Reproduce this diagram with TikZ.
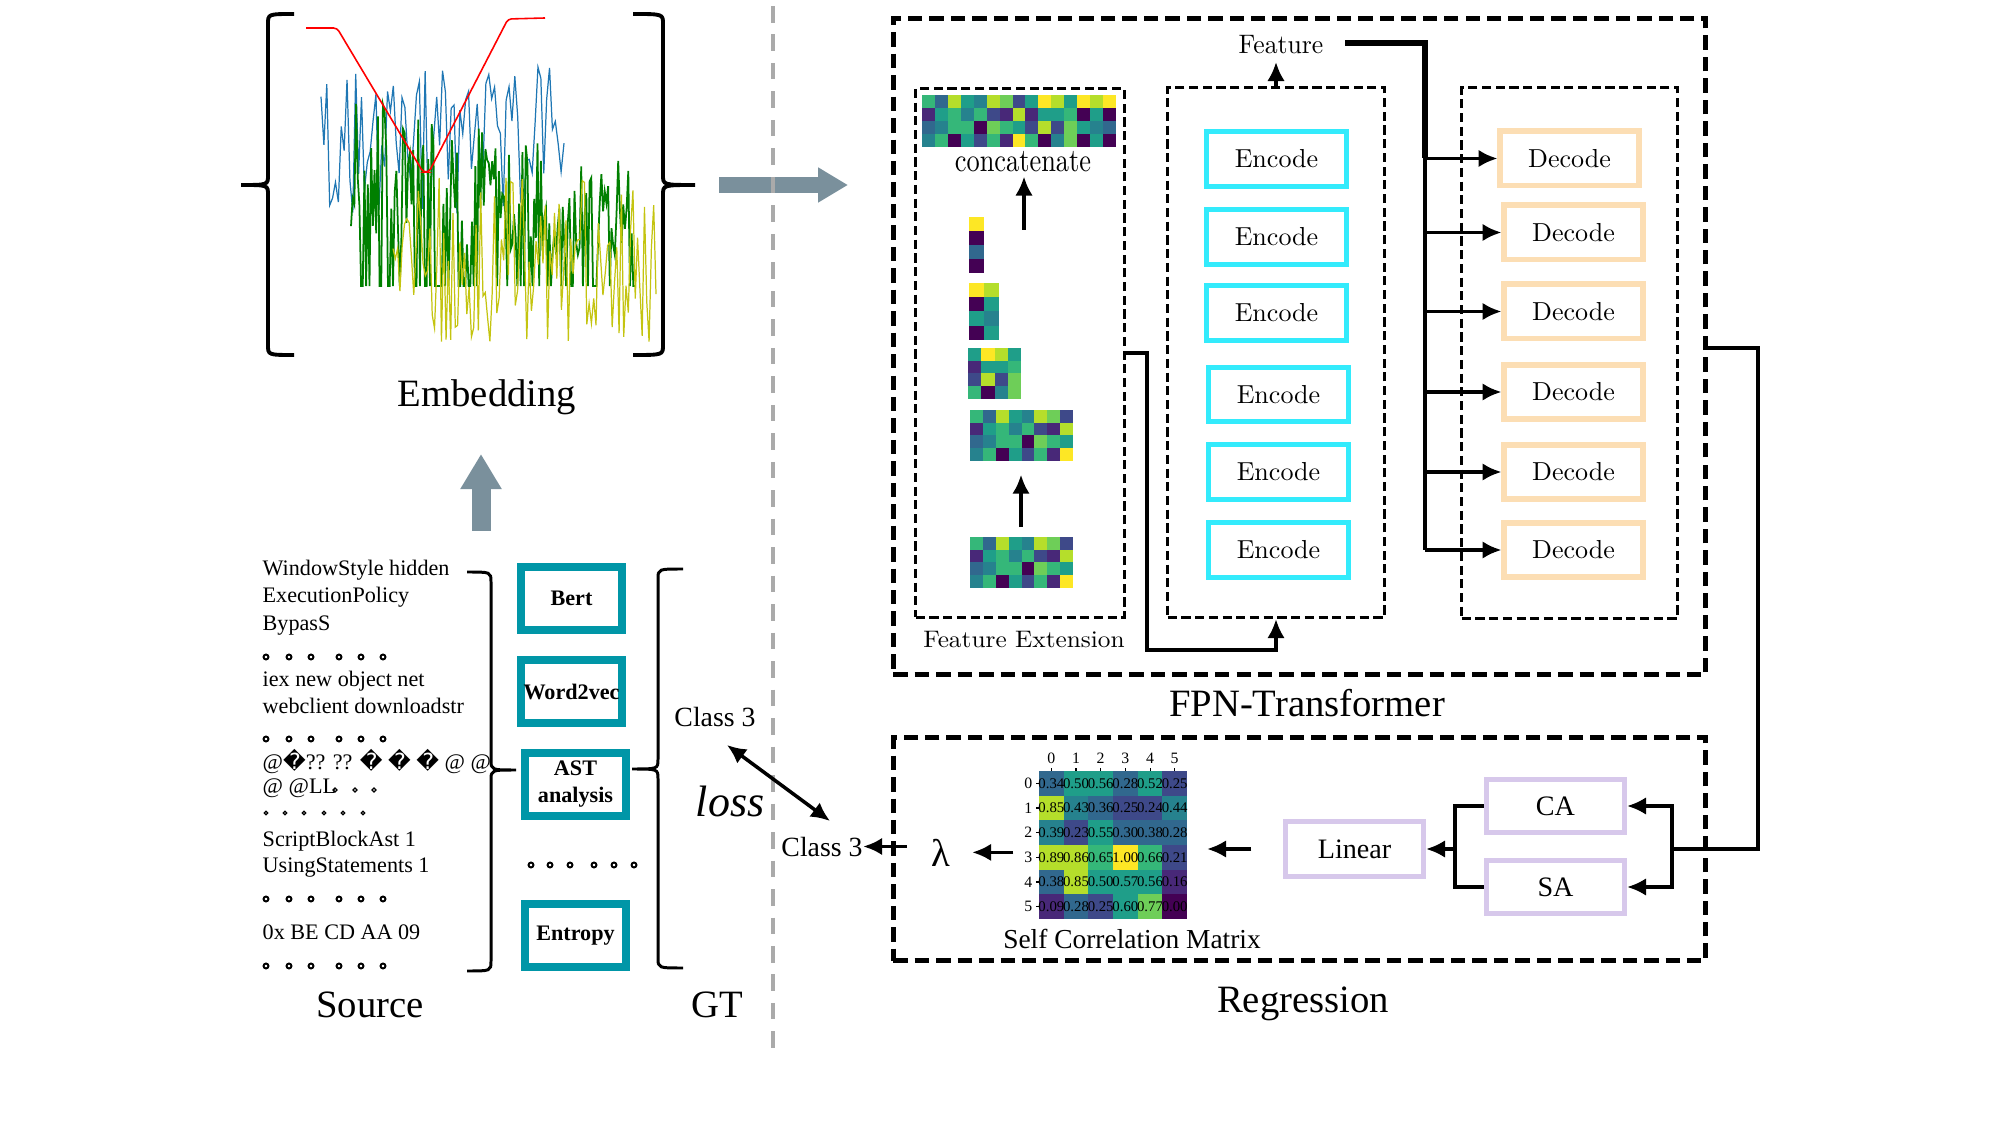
\documentclass[tikz,border=0pt]{standalone}
\usepackage{fontspec}
\usepackage{graphicx}
\newfontfamily\tnr{Liberation Serif}
\newfontfamily\dejavu{DejaVu Sans}
\usetikzlibrary{arrows.meta}
\definecolor{vir0}{HTML}{440154}
\definecolor{vir1}{HTML}{482878}
\definecolor{vir2}{HTML}{3E4989}
\definecolor{vir3}{HTML}{31688E}
\definecolor{vir4}{HTML}{26828E}
\definecolor{vir5}{HTML}{1F9E89}
\definecolor{vir6}{HTML}{35B779}
\definecolor{vir7}{HTML}{6ECE58}
\definecolor{vir8}{HTML}{B5DE2B}
\definecolor{vir9}{HTML}{FDE725}
\definecolor{tealc}{RGB}{0,150,167}
\definecolor{cyanc}{RGB}{51,235,252}
\definecolor{peachc}{RGB}{252,222,180}
\definecolor{lavc}{RGB}{215,200,235}
\definecolor{bigarr}{RGB}{122,144,156}
\definecolor{gdashc}{RGB}{170,170,170}
\definecolor{mblue}{RGB}{31,119,180}
\definecolor{mgreen}{RGB}{0,128,0}
\definecolor{myellow}{RGB}{196,196,16}
\newcommand\cmtxt[3]{\scalebox{#1}[#2]{\fontsize{10}{12}\selectfont #3}}
\newcommand\hmap[5]{%
  \foreach \hrow [count=\hr from 0] in {#5} {%
    \foreach \hv [count=\hc from 0] in \hrow {%
      \fill[vir\hv] ({#1+\hc*#3},{#2+\hr*#4}) rectangle ++({#3+0.3},{#4+0.3});
    }}}
\newcommand\tbrace[8]{%
  \draw[line width=#8] (#1,#2) .. controls (#3,#2) .. (#3,{#2+#7}) -- (#3,{#5-#7})
   .. controls (#3,#5) .. (#4,#5) .. controls (#3,#5) .. (#3,{#5+#7}) -- (#3,{#6-#7})
   .. controls (#3,#6) .. (#1,#6);}
\begin{document}
\begin{tikzpicture}[x=0.01cm,y=-0.01cm,
  every node/.style={inner sep=0pt},
  arr/.style={-{Latex[length=5.4pt,width=5pt]},line width=1pt},
  conn/.style={line width=0.9pt},
  outerdash/.style={draw,line width=1.45pt,dash pattern=on 4.1pt off 2pt},
  innerdash/.style={draw,line width=1pt,dash pattern=on 2.6pt off 1.3pt},
  srcbox/.style={draw=tealc,line width=2.28pt,minimum width=1.01cm,minimum height=0.63cm,
     font=\tnr\bfseries\fontsize{6.3}{7.7}\selectfont,align=center},
  encbox/.style={draw=cyanc,line width=1.55pt,minimum width=1.395cm,minimum height=0.545cm},
  decbox/.style={draw=peachc,line width=1.7pt,minimum width=1.38cm,minimum height=0.54cm},
  attbox/.style={draw=lavc,line width=1.42pt,minimum width=1.38cm,minimum height=0.53cm,
     font=\tnr\fontsize{8}{9}\selectfont},
  srctxt/.style={anchor=base west,font=\tnr\fontsize{6.3}{7.3}\selectfont},
  biglbl/.style={anchor=base,font=\tnr\fontsize{11}{13}\selectfont},
  midlbl/.style={anchor=base,font=\tnr\fontsize{7.9}{9}\selectfont},
  bigdot/.style={line width=0.55pt},
  ]
\useasboundingbox (0,0) rectangle (2000,1125);

% ---------- Embedding plot ----------
\pgfmathsetseed{42}
\draw[mblue,line width=0.35pt] plot[domain=321:564,samples=85] (\x,{140+74*rand});
\draw[mgreen,line width=0.5pt] plot[domain=351:635,samples=170]
   (\x,{286-(rnd>0.28)*(40+150*rnd)*(1-0.35*(\x-351)/284)});
\draw[myellow,line width=0.35pt] plot[domain=393:656,samples=115] (\x,{177+165*rnd});
\draw[red,line width=0.45pt,rounded corners=1pt] (306,28) -- (337,28) -- (423,172) -- (429,172) -- (508,19) -- (545,18);
\tbrace{294}{14}{268}{241}{185}{355}{10}{1.1pt}
\tbrace{633}{14}{663}{695}{185}{355}{10}{1.1pt}
\node[biglbl] (emb) at (487,407) {Embedding};

\coordinate (upA) at (481,531); \coordinate (upB) at (481,454);
\draw[bigarr,line width=5.4pt,-{Triangle[length=10pt,width=11.1pt]}] (upA) -- (upB);
\coordinate (rtA) at (719,185); \coordinate (rtB) at (848,185);
\draw[bigarr,line width=4.55pt,-{Triangle[length=8.5pt,width=9.4pt]}] (rtA) -- (rtB);

\coordinate (gtop) at (773,6); \coordinate (gbot) at (773,1048);
\draw[gdashc,line width=1.28pt,dash pattern=on 4.7pt off 3.4pt] (gtop) -- (gbot);

% ---------- Source ----------
\node[srctxt] (s1) at (262,576) {WindowStyle hidden};
\node[srctxt] (s2) at (262,603) {ExecutionPolicy};
\node[srctxt] (s3) at (262,630) {BypasS};
\node[srctxt] (s4) at (262,687) {iex new object net};
\node[srctxt] (s5) at (262,713) {webclient downloadstr};
\node[srctxt] (s6) at (262,769) {@{\dejavu �}?? ?? {\dejavu �} {\dejavu �} {\dejavu �} @ @};
\node[srctxt] (s7) at (262,794) {@ @LL};
\node[srctxt] (s8) at (262,846) {ScriptBlockAst 1};
\node[srctxt] (s9) at (262,872) {UsingStatements 1};
\node[srctxt] (s10) at (262,939) {0x BE CD AA 09};
\node[biglbl] (src) at (370,1017) {Source};
\foreach \yy in {657,739,899,966}{\foreach \xx in {266,289,311,339,361,383}{\draw[bigdot] (\xx,\yy) circle[radius=0.7pt];}}
\foreach \xx in {266,285,304,324,343,363}{\draw[line width=0.35pt] (\xx,813) circle[radius=0.5pt];}
\foreach \xx in {335,355,374}{\draw[line width=0.35pt] (\xx,790) circle[radius=0.55pt];}
\tbrace{467}{572}{491}{516}{770}{971}{10}{0.85pt}

\node[srcbox] (bert) at (571.5,598.5) {Bert};
\node[srcbox] (w2v) at (571.5,691.5) {Word2vec};
\node[srcbox] (ast) at (575.5,784.5) {AST\\analysis};
\node[srcbox] (ent) at (575.5,935.5) {Entropy};
\foreach \xx in {531,550,570,594,614,634}{\draw[bigdot] (\xx,865) circle[radius=0.7pt];}

% ---------- GT ----------
\tbrace{683}{569}{658}{632}{769}{968}{10}{0.85pt}
\node[midlbl] (cls1) at (715,726) {Class 3};
\node[anchor=base,font=\tnr\itshape\fontsize{12.5}{14}\selectfont] (loss) at (730,817) {loss};
\node[biglbl] (gt) at (717,1017) {GT};
\coordinate (la) at (727,745); \coordinate (lb) at (830,821);
\draw[{Latex[length=5.4pt,width=5pt]}-{Latex[length=5.4pt,width=5pt]},line width=1pt] (la) -- (lb);

% ---------- FPN-Transformer ----------
\node[outerdash,minimum width=8.12cm,minimum height=6.56cm] (fpn) at (1299.5,346.5) {};
\node[biglbl] (fpnl) at (1307,716) {FPN-Transformer};

\node[innerdash,minimum width=2.085cm,minimum height=5.285cm] (fe) at (1020,353) {};
\node[anchor=base] (fel) at (1024,648) {\cmtxt{0.72}{0.68}{Feature Extension}};
\hmap{922}{95}{12.93}{13}{{6,3,8,5,4,8,7,2,5,9,8,5,9,8,9},{1,5,6,4,6,2,1,8,1,5,5,6,0,5,0},{3,4,6,6,0,7,6,5,2,8,2,7,5,4,3},{4,6,0,5,2,6,1,9,6,0,4,7,0,5,0}}
\node[anchor=base] (cc) at (1023,172) {\cmtxt{0.75}{0.93}{concatenate}};
\hmap{969}{217}{15}{14}{{9},{0},{3},{0}}
\hmap{969}{283}{15}{14.25}{{9,8},{0,5},{5,4},{0,5}}
\hmap{968}{348}{13.25}{12.75}{{5,9,8,5},{1,5,5,6},{2,8,2,7},{6,0,4,7}}
\hmap{970}{410}{12.875}{12.75}{{6,3,8,5,4,8,7,2},{1,5,6,4,6,2,1,8},{3,4,6,6,0,7,6,5},{4,6,0,5,2,6,1,9}}
\hmap{970}{537}{12.875}{12.75}{{6,3,8,5,4,8,7,2},{1,5,6,4,6,2,1,8},{3,4,6,6,0,7,6,5},{4,6,0,5,2,6,1,9}}
\node[minimum width=1.03cm,minimum height=0.51cm] (hm4) at (1021,435.5) {};
\node[minimum width=1.03cm,minimum height=0.51cm] (hm5) at (1021,562.5) {};
\draw[arr,shorten <=2.6pt,shorten >=3.7pt] (hm5.north) -- (hm4.south);
\coordinate (ccA) at (1024,230);
\draw[arr,shorten >=1pt] (ccA) -- (ccA |- cc.south);

\node[innerdash,minimum width=2.165cm,minimum height=5.295cm] (enc) at (1276,352.5) {};
\node[encbox] (enc1) at (1276.5,159) {\cmtxt{0.74}{0.74}{Encode}};
\node[encbox] (enc2) at (1276.5,237) {\cmtxt{0.74}{0.74}{Encode}};
\node[encbox] (enc3) at (1276.5,313) {\cmtxt{0.74}{0.74}{Encode}};
\node[encbox] (enc4) at (1278.5,394.5) {\cmtxt{0.74}{0.74}{Encode}};
\node[encbox] (enc5) at (1278.5,472) {\cmtxt{0.74}{0.74}{Encode}};
\node[encbox] (enc6) at (1278.5,550) {\cmtxt{0.74}{0.74}{Encode}};
\node[anchor=base] (feat) at (1281,54) {\cmtxt{0.73}{0.76}{Feature}};
\draw[arr,shorten >=2pt] (enc.north) -- (enc.north |- feat.south);
\coordinate (feB) at (1147,650);
\draw[arr] (fe.east) -| (feB) -| (enc.south);

\node[innerdash,minimum width=2.155cm,minimum height=5.305cm] (dec) at (1569.5,353) {};
\node[decbox] (dec1) at (1569.5,158.5) {\cmtxt{0.74}{0.74}{Decode}};
\node[decbox] (dec2) at (1573.5,232.5) {\cmtxt{0.74}{0.74}{Decode}};
\node[decbox] (dec3) at (1573.5,311.5) {\cmtxt{0.74}{0.74}{Decode}};
\node[decbox] (dec4) at (1573.5,392) {\cmtxt{0.74}{0.74}{Decode}};
\node[decbox] (dec5) at (1573.5,472) {\cmtxt{0.74}{0.74}{Decode}};
\node[decbox] (dec6) at (1573.5,550) {\cmtxt{0.74}{0.74}{Decode}};
\coordinate (featR) at (1345,43);
\coordinate (busTop) at (1425,43);
\foreach \i in {1,...,6} {\coordinate (bus\i) at (busTop |- dec\i.west);}
\draw[line width=1.56pt] (featR) -- (busTop) -- (bus1);
\draw[conn] (bus1) -- (bus6);
\foreach \i in {1,...,6} {\draw[arr] (bus\i) -- (dec\i.west);}

% ---------- Regression ----------
\node[outerdash,minimum width=8.12cm,minimum height=2.23cm] (reg) at (1299.5,849) {};
\node[biglbl] (regl) at (1303,1012) {Regression};
\node[attbox] (ca) at (1555.5,806) {CA};
\node[attbox] (sa) at (1555.5,887) {SA};
\node[attbox,minimum height=0.54cm] (lin) at (1354.5,849) {Linear};
\coordinate (rc) at (1758,348);
\coordinate (spR) at (1672,849);
\draw[conn] (fpn.east |- rc) -- (rc) |- (spR);
\draw[arr] (spR) |- (ca.east);
\draw[arr] (spR) |- (sa.east);
\coordinate (spL) at (1455,849);
\draw[conn] (ca.west) -| (spL);
\draw[conn] (sa.west) -| (spL);
\draw[arr] (spL) -- (lin.east);

\node[minimum width=1.48cm,minimum height=1.48cm] (mat) at (1113,845) {};
\foreach \rowv [count=\mr from 0] in {{0.34,0.50,0.56,0.28,0.52,0.25},{0.85,0.43,0.36,0.25,0.24,0.44},{0.39,0.23,0.55,0.30,0.38,0.28},{0.89,0.86,0.65,1.00,0.66,0.21},{0.38,0.85,0.50,0.57,0.56,0.16},{0.09,0.28,0.25,0.60,0.77,0.00}} {
  \foreach \v [count=\mc from 0] in \rowv {
    \pgfmathtruncatemacro\ci{round(\v*9)}
    \fill[vir\ci] ({1039+\mc*24.67},{771+\mr*24.67}) rectangle ++(24.97,24.97);
    \node[font=\tnr\fontsize{4.2}{5}\selectfont] (m\mr\mc) at ({1039+(\mc+0.5)*24.67},{771+(\mr+0.5)*24.67}) {\v};
  }}
\foreach \i in {0,...,5} {
  \node[font=\tnr\fontsize{4.5}{5}\selectfont] (cx\i) at ({1039+(\i+0.5)*24.67},758) {\i};
  \draw[line width=0.3pt] ({1039+(\i+0.5)*24.67},771) -- ++(0,-3);
  \node[anchor=east,font=\tnr\fontsize{4.5}{5}\selectfont] (rx\i) at (1033,{771+(\i+0.5)*24.67}) {\i};
  \draw[line width=0.3pt] (1039,{771+(\i+0.5)*24.67}) -- ++(-3,0);
}
\node[anchor=base,font=\tnr\fontsize{7.8}{9}\selectfont] (scm) at (1132,948) {Self Correlation Matrix};
\draw[arr,shorten <=9pt,shorten >=5.5pt] (lin.west) -- (lin.west -| mat.east);
\node[anchor=base,font=\tnr\fontsize{11}{13}\selectfont] (lam) at (941,866) {λ};
\draw[arr,shorten <=7.1pt,shorten >=6pt] (mat.west |- lam.east) -- (lam.east);
\node[midlbl] (cls2) at (822,856) {Class 3};
\draw[arr,shorten <=6.8pt] (lam.west |- cls2.east) -- (cls2.east);
\end{tikzpicture}
\end{document}
